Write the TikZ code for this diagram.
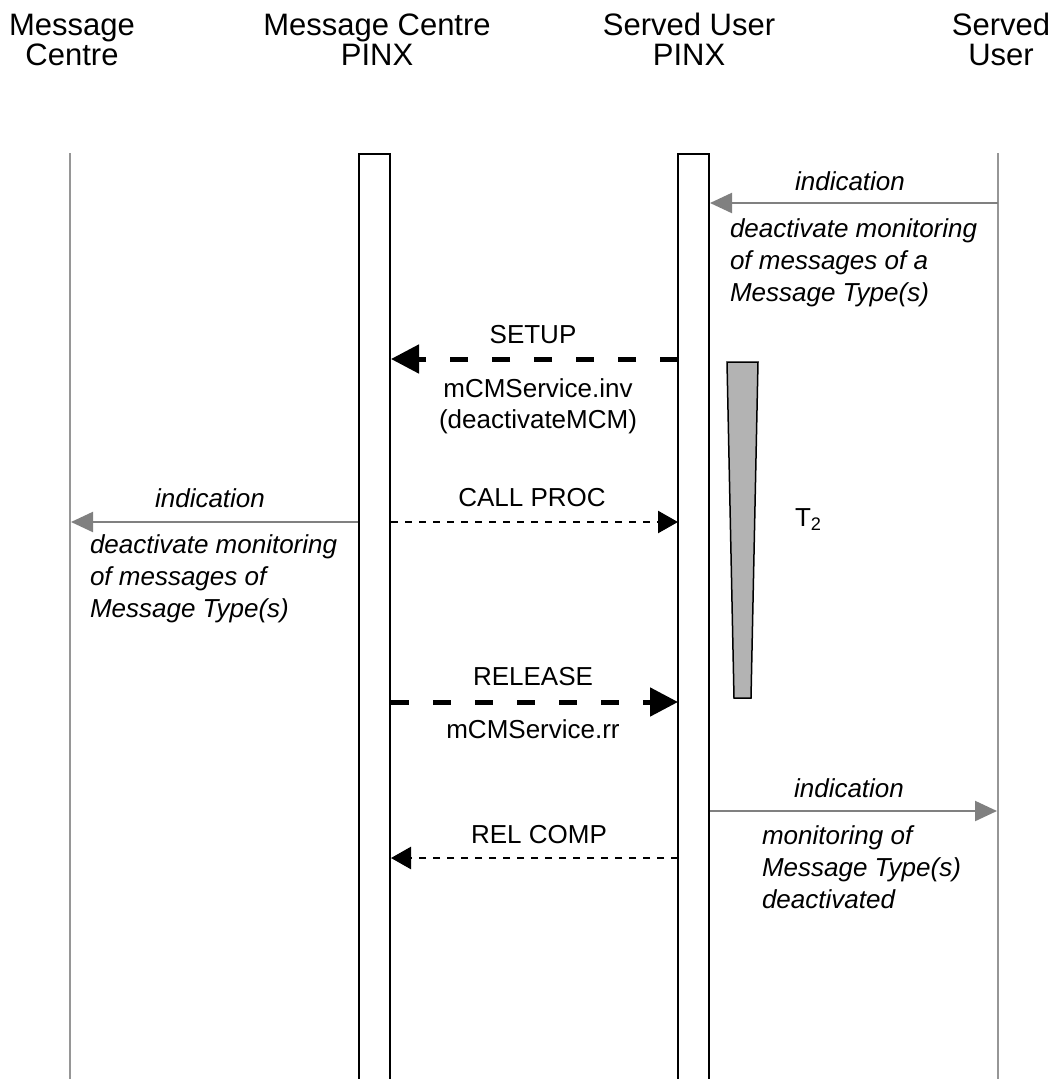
\documentclass[tikz,border=0pt]{standalone}
\usepackage{fontspec}
\setmainfont{Liberation Sans}
\usetikzlibrary{arrows.meta}
\definecolor{lifegray}{RGB}{150,150,150}
\definecolor{arrgray}{RGB}{128,128,128}
\definecolor{timerfill}{RGB}{179,179,179}
\begin{document}
\begin{tikzpicture}[x=1pt,y=-1pt,
  lbl/.style={font=\fontsize{26}{31}\selectfont, inner sep=0pt, outer sep=0pt},
  ilbl/.style={lbl, font=\fontsize{26}{32}\selectfont\itshape},
  hdr/.style={font=\fontsize{31}{30}\selectfont, align=center, inner sep=0pt, anchor=base},
  life/.style={draw=lifegray, line width=1.5pt},
  actbox/.style={draw=black, line width=1.8pt},
  timer/.style={draw=black, fill=timerfill, line width=1.5pt, line join=miter},
  grayarr/.style={draw=arrgray, line width=2.2pt, -{Triangle[length=22pt,width=20pt]}},
  thickarr/.style={draw=black, line width=5pt, dash pattern=on 18pt off 24pt, -{Triangle[length=28pt,width=28pt]}},
  thinarr/.style={draw=black, line width=2.5pt, dash pattern=on 7pt off 7pt, -{Triangle[length=20pt,width=22pt]}}
]
\useasboundingbox (0,0) rectangle (1055,1079);

% headers (anchor base = baseline of last line)
\node[hdr] (h1) at (72,65) {Message\\Centre};
\node[hdr] (h2) at (377,65) {Message Centre\\PINX};
\node[hdr] (h3) at (689,65) {Served User\\PINX};
\node[hdr] (h4) at (1001,65) {Served\\User};

% lifelines
\coordinate (mcTop) at (70,153);
\coordinate (mcBot) at (70,1082);
\coordinate (suTop) at (998,153);
\coordinate (suBot) at (998,1082);
\draw[life] (mcTop) -- (mcBot);
\draw[life] (suTop) -- (suBot);

% PINX boxes
\coordinate (b2a) at (359,1085);
\coordinate (b2b) at (359,154);
\coordinate (b2c) at (390,154);
\coordinate (b2d) at (390,1085);
\draw[actbox] (b2a) -- (b2b) -- (b2c) -- (b2d);
\coordinate (b3a) at (678,1085);
\coordinate (b3b) at (678,154);
\coordinate (b3c) at (709,154);
\coordinate (b3d) at (709,1085);
\draw[actbox] (b3a) -- (b3b) -- (b3c) -- (b3d);

% timer T2
\coordinate (t1) at (727,362);
\coordinate (t2) at (758,362);
\coordinate (t3) at (751,698);
\coordinate (t4) at (734,698);
\draw[timer] (t1) -- (t2) -- (t3) -- (t4) -- cycle;
\node[lbl, anchor=base west] (t2lbl) at (795,526) {T\textsubscript{2}};

% indication (served user -> SU PINX)
\coordinate (i1s) at (998,203);
\coordinate (i1e) at (710,203);
\draw[grayarr] (i1s) -- (i1e);
\node[ilbl, anchor=base] (i1t) at (850,190) {indication};
\node[ilbl, align=left, anchor=base west] (i1b) at (730,301) {deactivate monitoring\\of messages of a\\Message Type(s)};

% SETUP
\coordinate (s1s) at (678,359);
\coordinate (s1e) at (391,359);
\draw[thickarr] (s1s) -- (s1e);
\node[lbl, anchor=base] (s1t) at (533,343) {SETUP};
\node[lbl, align=center, anchor=base] (s1b) at (538,428) {mCMService.inv\\(deactivateMCM)};

% CALL PROC
\coordinate (c1s) at (391,522);
\coordinate (c1e) at (678,522);
\draw[thinarr] (c1s) -- (c1e);
\node[lbl, anchor=base] (c1t) at (532,506) {CALL PROC};

% indication (MC PINX -> message centre)
\coordinate (i2s) at (358,522);
\coordinate (i2e) at (71,522);
\draw[grayarr] (i2s) -- (i2e);
\node[ilbl, anchor=base] (i2t) at (210,507) {indication};
\node[ilbl, align=left, anchor=base west] (i2b) at (90,617) {deactivate monitoring\\of messages of\\Message Type(s)};

% RELEASE
\coordinate (r1s) at (391,702);
\coordinate (r1e) at (678,702);
\draw[thickarr] (r1s) -- (r1e);
\node[lbl, anchor=base] (r1t) at (533,685) {RELEASE};
\node[lbl, anchor=base] (r1b) at (533,738) {mCMService.rr};

% indication (SU PINX -> served user)
\coordinate (i3s) at (710,811);
\coordinate (i3e) at (997,811);
\draw[grayarr] (i3s) -- (i3e);
\node[ilbl, anchor=base] (i3t) at (849,797) {indication};
\node[ilbl, align=left, anchor=base west] (i3b) at (762,908) {monitoring of\\Message Type(s)\\deactivated};

% REL COMP
\coordinate (rc1s) at (678,858);
\coordinate (rc1e) at (391,858);
\draw[thinarr] (rc1s) -- (rc1e);
\node[lbl, anchor=base] (rc1t) at (539,843) {REL COMP};
\end{tikzpicture}
\end{document}
